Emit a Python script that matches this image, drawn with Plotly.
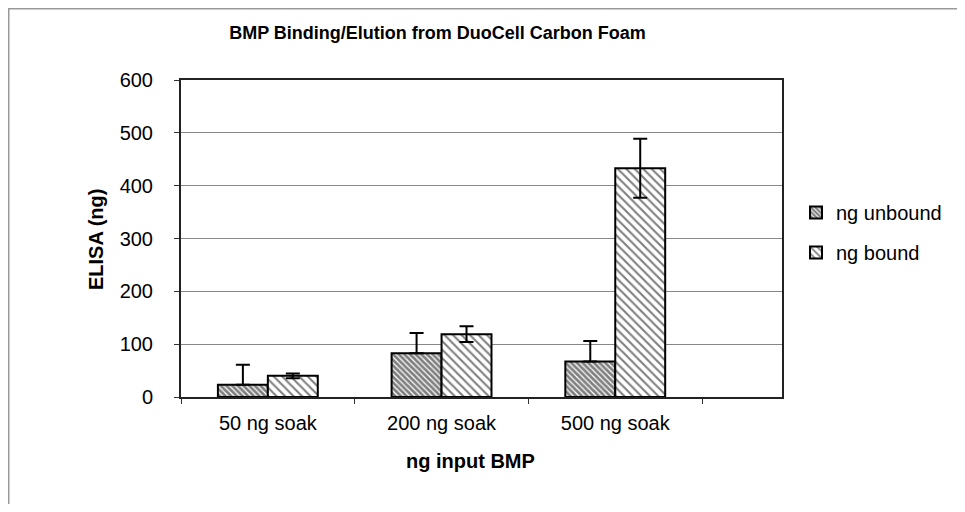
import plotly.graph_objects as go

categories = ["50 ng soak", "200 ng soak", "500 ng soak"]
unbound = [23, 83, 67]
unbound_err = [38, 38, 39]
bound = [40, 119, 433]
bound_err = [4.5, 15, 56]
y_ticks = [0, 100, 200, 300, 400, 500, 600]

# page body has an 8px margin; work in screen pixels and convert
OFF = 8
W, H = 965 - 2 * OFF, 512 - 2 * OFF
PL, PR, PT, PB = 181, 782, 80, 397          # plot area in screen px
L, T = PL - OFF, PT - OFF
R, B = W - (PR - OFF), H - (PB - OFF)
pw, ph = PR - PL, PB - PT

def px_x(x):
    return (x - PL) / pw

def px_y(y):
    return (PB - y) / ph

FONT = "Liberation Sans, Arial, sans-serif"

fig = go.Figure()
fig.add_trace(go.Bar(
    x=categories, y=unbound, name="ng unbound", legendgroup="a",
    marker=dict(color="white", line=dict(color="black", width=2),
                pattern=dict(shape="\\", fgcolor="black", bgcolor="white", size=4, solidity=0.7)),
    error_y=dict(type="data", array=unbound_err, arrayminus=[0, 0, 0], symmetric=False,
                 color="black", thickness=2, width=7),
))
fig.add_trace(go.Bar(
    x=categories, y=bound, name="ng bound", legendgroup="b",
    marker=dict(color="white", line=dict(color="black", width=2),
                pattern=dict(shape="\\", fgcolor="black", bgcolor="white", size=6, solidity=0.35)),
    error_y=dict(type="data", array=bound_err, symmetric=True,
                 color="black", thickness=2, width=7),
))

fig.update_layout(
    width=W, height=H,
    margin=dict(l=L, r=R, t=T, b=B, autoexpand=False),
    paper_bgcolor="white", plot_bgcolor="white",
    font=dict(family=FONT, size=20, color="black"),
    barmode="group", bargap=0.425, bargroupgap=0,
    title=dict(text="<b>BMP Binding/Elution from DuoCell Carbon Foam</b>",
               x=(437.5 - OFF) / W, xref="container", xanchor="center",
               y=1 - (33 - OFF) / H, yref="container", yanchor="middle",
               font=dict(family=FONT, size=18)),
    legend=dict(x=px_x(796), y=px_y(193), xanchor="left", yanchor="top",
                font=dict(family=FONT, size=20), tracegroupgap=11,
                bgcolor="rgba(0,0,0,0)", itemwidth=30),
    showlegend=True,
)
fig.update_xaxes(
    type="category", range=[-0.5, 2.96],
    showline=True, linecolor="#222", linewidth=2, mirror=True,
    ticks="outside", tickson="boundaries", ticklen=5, tickcolor="#333",
    ticklabelstandoff=7,
    showgrid=False, tickfont=dict(family=FONT, size=20),
)
fig.update_yaxes(
    range=[0, 600], tickvals=y_ticks,
    showline=True, linecolor="#222", linewidth=2, mirror=True,
    ticks="outside", ticklen=5, tickcolor="#333",
    ticklabelstandoff=17,
    showgrid=True, gridcolor="#888", gridwidth=1,
    zeroline=False, tickfont=dict(family=FONT, size=20),
)
fig.add_annotation(text="<b>ELISA (ng)</b>", textangle=-90, xref="paper", yref="paper",
                   x=px_x(96), y=px_y(239), xanchor="center", yanchor="middle",
                   showarrow=False, font=dict(family=FONT, size=20))
fig.add_annotation(text="<b>ng input BMP</b>", xref="paper", yref="paper",
                   x=px_x(470), y=px_y(461), xanchor="center", yanchor="middle",
                   showarrow=False, font=dict(family=FONT, size=20))
fig.add_shape(type="rect", xref="paper", yref="paper",
              x0=px_x(OFF + 0.5), x1=px_x(W + OFF + 20), y0=px_y(H + OFF + 20), y1=px_y(OFF + 0.5),
              line=dict(color="#999", width=2), layer="below")

fig.write_html("out.html")
